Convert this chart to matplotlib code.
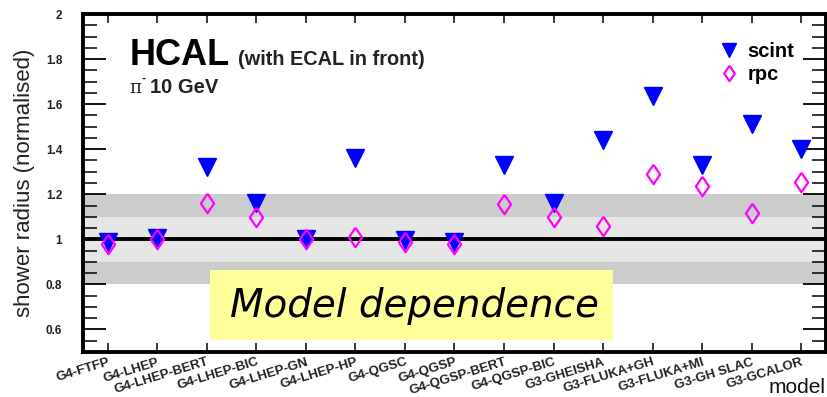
import matplotlib
matplotlib.use("Agg")
import matplotlib.pyplot as plt
from matplotlib.patches import Rectangle
from matplotlib.ticker import MultipleLocator, FixedLocator

models = ["G4-FTFP", "G4-LHEP", "G4-LHEP-BERT", "G4-LHEP-BIC", "G4-LHEP-GN",
          "G4-LHEP-HP", "G4-QGSC", "G4-QGSP", "G4-QGSP-BERT", "G4-QGSP-BIC",
          "G3-GHEISHA", "G3-FLUKA+GH", "G3-FLUKA+MI", "G3-GH SLAC", "G3-GCALOR"]
scint = [0.99, 1.005, 1.32, 1.16, 1.0, 1.36, 0.995, 0.99, 1.33, 1.16,
         1.44, 1.635, 1.33, 1.51, 1.40]
rpc = [0.98, 1.0, 1.16, 1.10, 1.0, 1.01, 0.99, 0.98, 1.155, 1.10,
       1.06, 1.29, 1.235, 1.115, 1.255]
yticks = [0.6, 0.8, 1.0, 1.2, 1.4, 1.6, 1.8, 2.0]
ytick_labels = ["0.6", "0.8", "1", "1.2", "1.4", "1.6", "1.8", "2"]

plt.rcParams['font.family'] = ['Liberation Sans', 'DejaVu Sans']

fig = plt.figure(figsize=(8.28, 3.97), dpi=100)
ax = fig.add_axes([0.1002, 0.1134, 0.8974, 0.8513])

x = list(range(len(models)))
ax.set_xlim(-0.5, len(models) - 0.5)
ax.set_ylim(0.5, 2.0)

# reference bands around unity
ax.axhspan(0.8, 1.2, color='#cccccc', lw=0, zorder=0)
ax.axhspan(0.9, 1.1, color='#e6e6e6', lw=0, zorder=0)
ax.axhline(1.0, color='black', lw=2.8, zorder=1)

# open diamond, a little wider than matplotlib's thin diamond
diamond = [(0, 1), (0.68, 0), (0, -1), (-0.68, 0), (0, 1)]

ax.plot(x, scint, linestyle='none', marker='v', markersize=13,
        color='#0000ff', zorder=3, label='scint')
ax.plot(x, rpc, linestyle='none', marker=diamond, markersize=14,
        markerfacecolor='none', markeredgecolor='#ff00ff', markeredgewidth=1.6,
        zorder=4, label='rpc')

# frame and ticks
for sp in ax.spines.values():
    sp.set_linewidth(2.8)
ax.xaxis.set_major_locator(FixedLocator(x))
ax.set_xticklabels(models, rotation=17, ha='right', va='top',
                   rotation_mode='anchor', fontsize=9.5, fontweight='bold',
                   color='#222222')
ax.yaxis.set_major_locator(FixedLocator(yticks))
ax.set_yticklabels(ytick_labels, fontsize=8.5, fontweight='bold',
                   color='#222222')
ax.yaxis.set_minor_locator(MultipleLocator(0.05))
ax.tick_params(axis='y', which='major', direction='in', length=16.5,
               width=1.3, right=True, pad=15)
ax.tick_params(axis='y', which='minor', direction='in', length=10,
               width=1.1, right=True)
ax.tick_params(axis='x', which='major', direction='in', length=6.5,
               width=1.1, top=True, pad=3)

ax.set_ylabel("shower radius (normalised)", fontsize=16, color='#222222',
              labelpad=8)
ax.text(1.0, -0.12, "model", transform=ax.transAxes, ha='right',
        va='baseline', fontsize=15, color='#111111')

# title block
ax.text(0.063, 0.849, "HCAL", transform=ax.transAxes, fontsize=26,
        fontweight='bold', va='baseline')
ax.text(0.209, 0.849, "(with ECAL in front)", transform=ax.transAxes,
        fontsize=14.3, fontweight='bold', color='#222222', va='baseline')
ax.text(0.063, 0.766, "π", transform=ax.transAxes, fontsize=13,
        family='DejaVu Serif', color='#222222', va='baseline')
ax.text(0.079, 0.800, "-", transform=ax.transAxes, fontsize=9,
        fontweight='bold', color='#222222', va='baseline')
ax.text(0.090, 0.766, "10 GeV", transform=ax.transAxes,
        fontsize=14.5, fontweight='bold', color='#222222', va='baseline')

# legend
leg = ax.legend(loc='upper right', bbox_to_anchor=(0.968, 0.94),
                frameon=False, prop={'weight': 'bold', 'size': 14.5},
                handlelength=0.8, handletextpad=0.5, labelspacing=0.2,
                borderaxespad=0, markerscale=0.8)

# annotation box
box = Rectangle((210 / 828, 1 - 340 / 397), (613 - 210) / 828, 70 / 397,
                transform=fig.transFigure, facecolor='#ffff99',
                edgecolor='none', zorder=5)
fig.patches.append(box)
fig.text(414 / 828, 1 - 306 / 397, "Model dependence", ha='center',
         va='center', fontsize=28, style='italic', family='DejaVu Sans',
         zorder=6)

fig.savefig("out.png", dpi=100)
